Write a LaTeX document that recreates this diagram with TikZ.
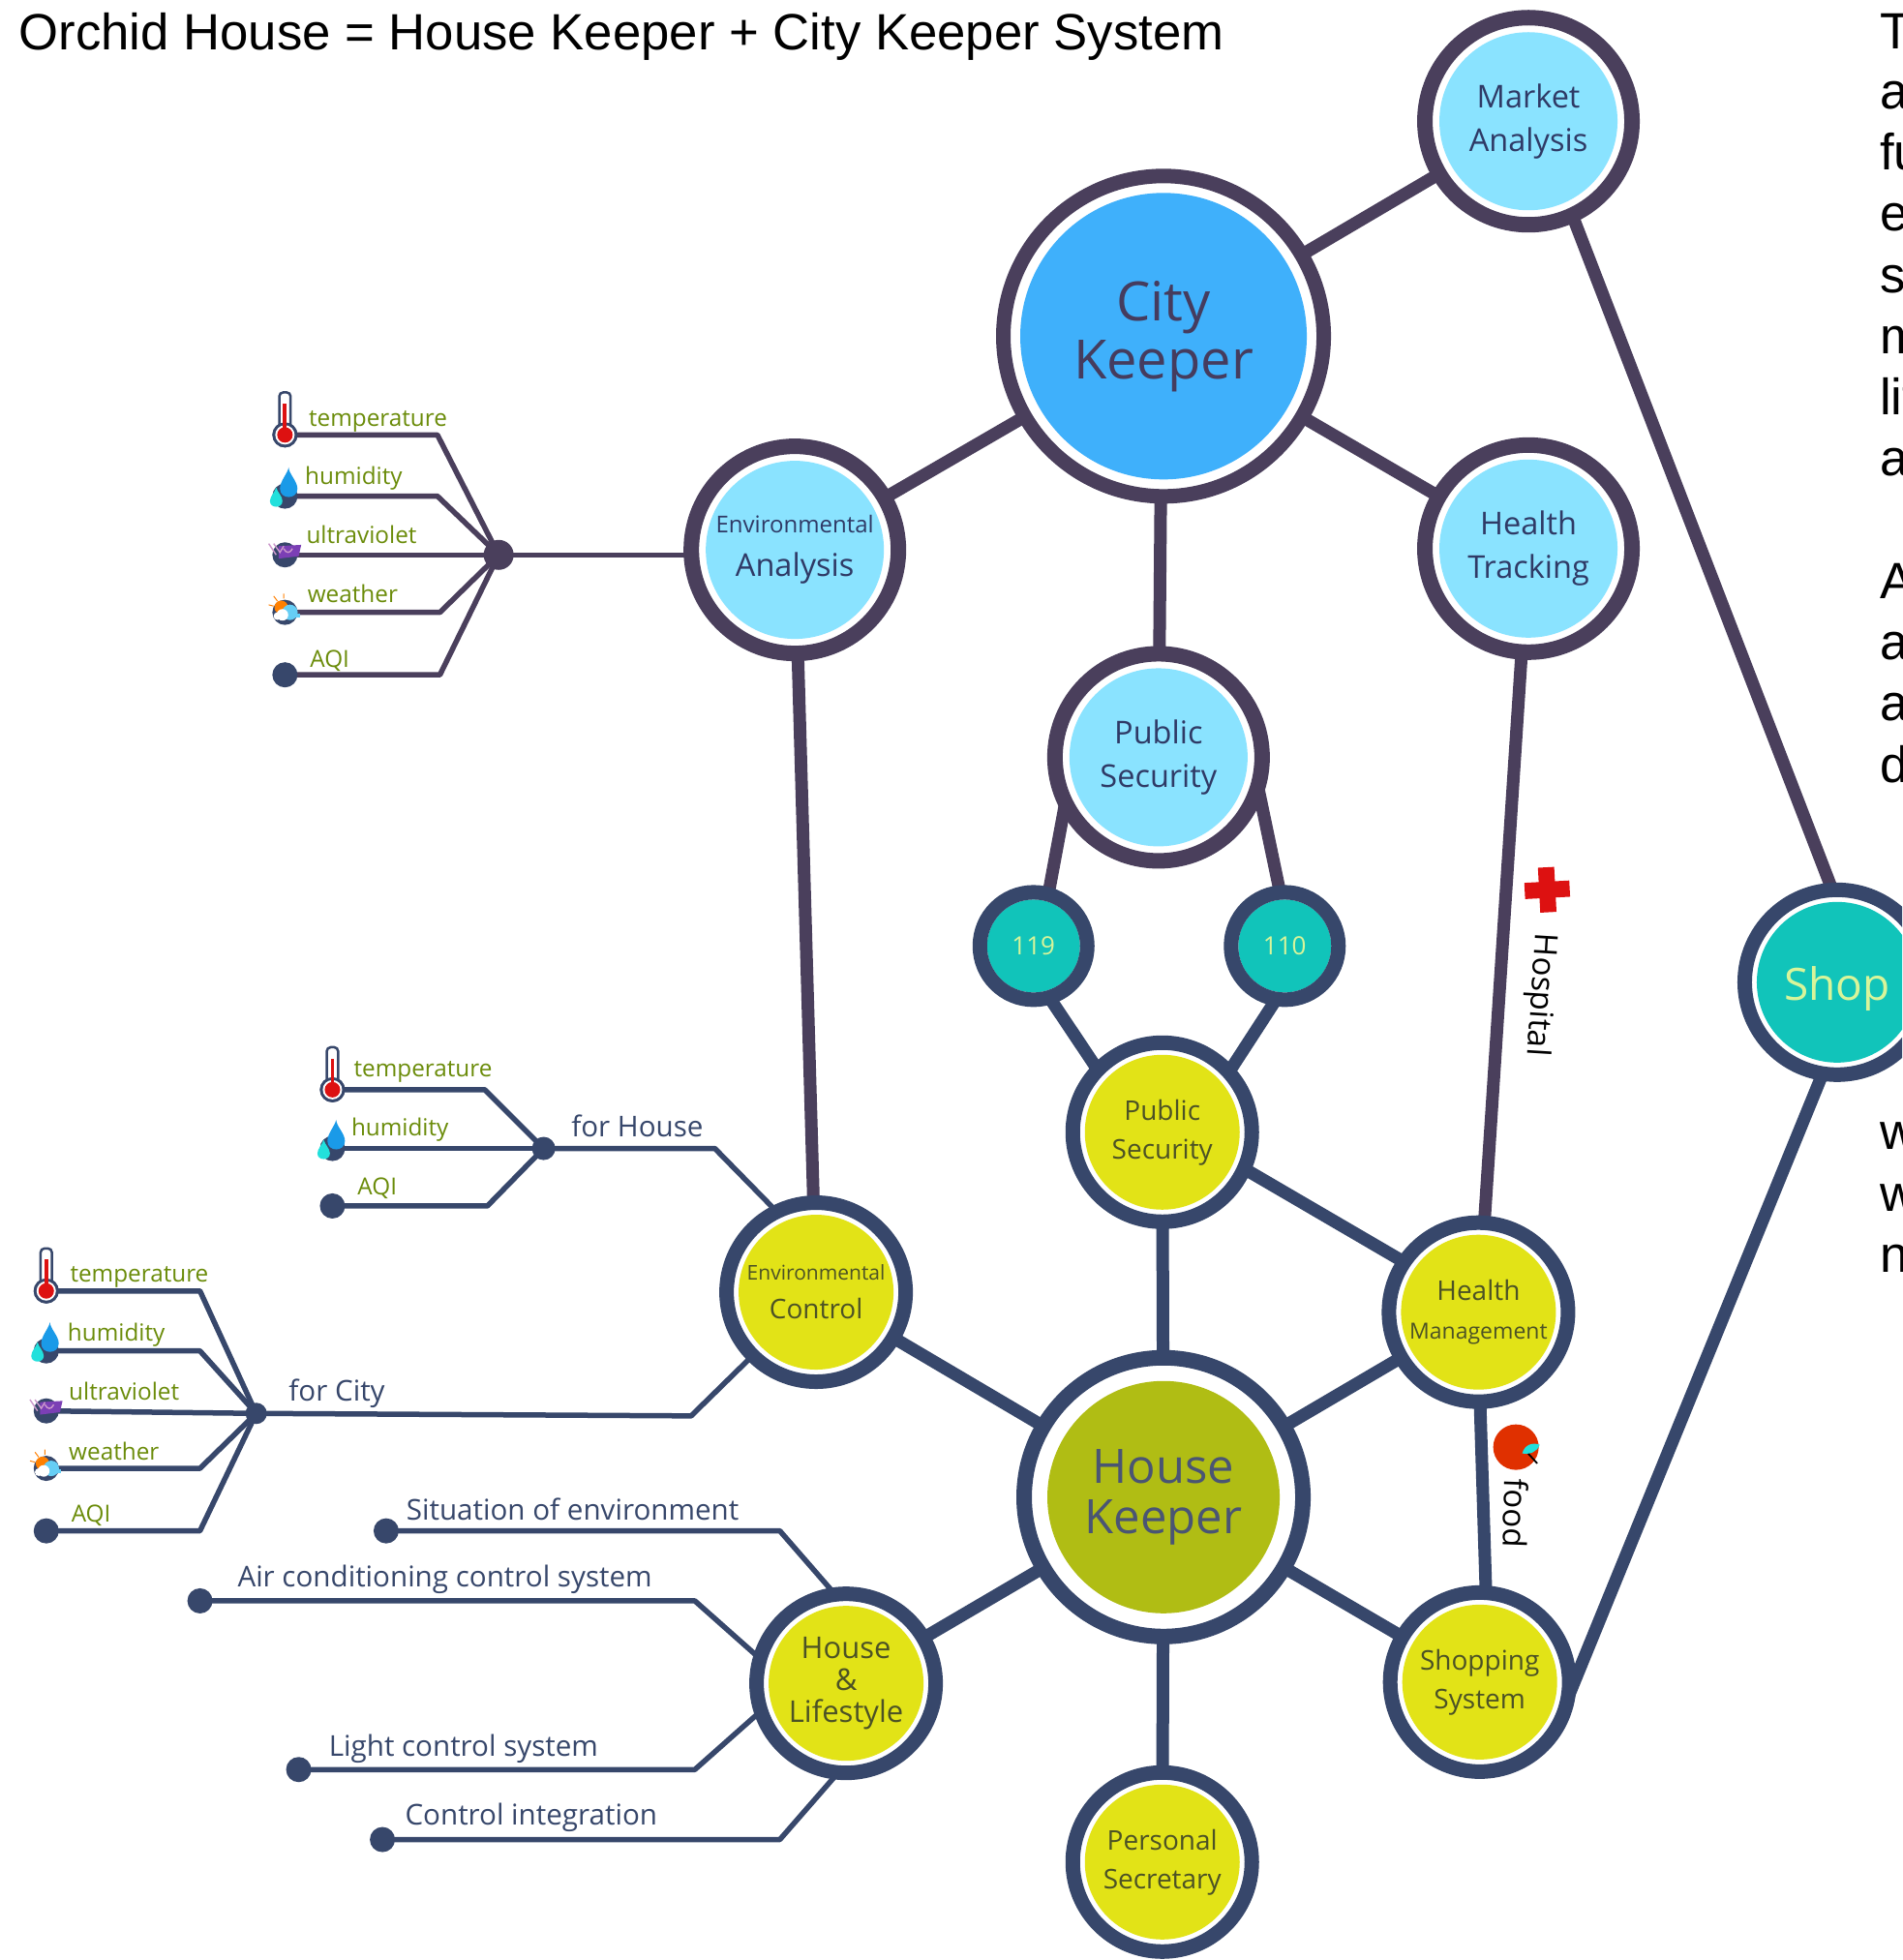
\documentclass[tikz,border=0pt]{standalone}
\usepackage{fontspec}
\setmainfont{Open Sans}
\newfontfamily\arialf{Liberation Sans}
\usetikzlibrary{backgrounds}
\definecolor{plum}{HTML}{4A3F5C}
\definecolor{navy}{HTML}{37476B}
\definecolor{cityblue}{HTML}{3FB0FB}
\definecolor{skyb}{HTML}{8AE3FF}
\definecolor{shopb}{HTML}{11C4BA}
\definecolor{lemon}{HTML}{E2E317}
\definecolor{oliveb}{HTML}{B0BD14}
\definecolor{leafgreen}{HTML}{6B8C0A}
\definecolor{txtplum}{HTML}{453C5E}
\definecolor{txtnavy}{HTML}{2F3A66}
\definecolor{txtgrey}{HTML}{4A5573}
\definecolor{txtolive}{HTML}{4C5225}
\definecolor{softyellow}{HTML}{D8F59A}
\definecolor{redx}{HTML}{DD1111}
\definecolor{applered}{HTML}{E03000}
\definecolor{dropblue}{HTML}{1A9AE8}
\definecolor{dropcyan}{HTML}{22E0DC}
\definecolor{uvviolet}{HTML}{7B3FB5}
\newcommand\fsz[2]{\fontsize{#1}{#2}\selectfont}
\newcommand\thermoicon[1]{\begin{scope}[shift={(#1)}]
  \filldraw[navy,fill=white,line width=2.5pt,rounded corners=4pt] (-4.5,0) rectangle (4.5,-34);
  \fill[navy] (0,0) circle (13pt);
  \fill[white] (0,0) circle (10pt);
  \fill[redx] (0,0) circle (8pt);
  \fill[redx] (-1.5,0) rectangle (1.5,-25);
\end{scope}}
\newcommand\dropicon[1]{\begin{scope}[shift={(#1)}]
  \fill[dropblue] (3,-23) .. controls (3,-18) and (10,-12) .. (10,-6) .. controls (10,3) and (-4,3) .. (-4,-6) .. controls (-4,-12) and (2,-18) .. (3,-23) -- cycle;
  \fill[dropcyan] (-7,-7) .. controls (-8,-3) and (-12,0) .. (-12,4) .. controls (-12,10) and (-2,10) .. (-2,4) .. controls (-2,0) and (-6,-3) .. (-7,-7) -- cycle;
\end{scope}}
\newcommand\uvicon[1]{\begin{scope}[shift={(#1)}]
  \fill[uvviolet] (-5,-7) -- (13,-8) -- (11,1) -- (-5,3) -- cycle;
  \draw[violet!40!white,line width=1.4pt] (-13,-9) -- (-7,0) (-9,-9) -- (-4,-2) -- (-1,-7) (-1,-5) .. controls (1,-1) and (4,-1) .. (6,-5);
\end{scope}}
\newcommand\weathericon[1]{\begin{scope}[shift={(#1)}]
  \fill[orange] (-3,-4) circle (7pt);
  \draw[orange,line width=1pt] (-9,-5) -- (-13,-6) (-6,-9) -- (-9,-13) (-1,-11) -- (-1,-15);
  \fill[cyan!60!white] (-6,1) rectangle (12,4);
  \fill[cyan!60!white] (4,0) circle (8pt);
  \fill[white] (-2,2) circle (6pt);
  \fill[white] (-6,3) circle (4pt);
\end{scope}}
\tikzset{
  ringnode/.style n args={5}{circle,draw=#1,line width=#3,fill=white,inner sep=0pt,outer sep=0pt,
    minimum size={2*#2-#3},align=center,
    path picture={\fill[#5] (path picture bounding box.center) circle (#4);}},
  topstrut/.style={execute at begin node={\rule{0pt}{#1}}},
  citybub/.style={ringnode={plum}{173pt}{15pt}{148pt}{cityblue},text=txtplum,font=\fsz{56}{60},topstrut=51pt},
  topbub/.style={ringnode={plum}{115pt}{16pt}{92pt}{skyb},text=txtnavy,font=\fsz{32.5}{45},topstrut=30pt},
  numbub/.style={ringnode={navy}{63pt}{15pt}{48pt}{shopb},text=softyellow,font=\fsz{26}{30}},
  keybub/.style={ringnode={navy}{152pt}{16pt}{120pt}{oliveb},text=txtgrey,font=\fsz{49}{52},topstrut=47pt},
  lowbub/.style={ringnode={navy}{100pt}{15pt}{80pt}{lemon},text=txtolive,font=\fsz{28}{40},topstrut=29pt},
  shopbub/.style={ringnode={navy}{103pt}{15pt}{83pt}{shopb},text=softyellow,font=\fsz{46}{50},topstrut=48pt},
  linkp/.style={draw=plum,line width=13pt},
  linkn/.style={draw=navy,line width=13pt},
  wirep/.style={draw=plum,line width=5.5pt,line join=round},
  wiren/.style={draw=navy,line width=5.5pt,line join=round},
  endp/.style={circle,fill=navy,inner sep=0pt,outer sep=0pt,minimum size=26pt},
  hubn/.style={circle,fill=#1,inner sep=0pt,outer sep=0pt},
  leaf/.style={anchor=base west,inner sep=0pt,text=leafgreen,font=\fsz{24.3}{27}},
  wirelabel/.style={anchor=base west,inner sep=0pt,text=navy,font=\fsz{29.6}{32}},
  arialtext/.style={anchor=base west,inner sep=0pt,text=black,font=\arialf\fsz{52.7}{57}},
  sidelabel/.style={inner sep=0pt,text=black,font=\fsz{33}{36}},
}
\begin{document}
\begin{tikzpicture}[x=1.2911pt,y=-1.2911pt]
\useasboundingbox (0,0) rectangle (1522,1568.4);
\clip (0,0) rectangle (1522,1568.4);
\begin{scope}[on background layer]
  \fill[white] (0,0) rectangle (1522,1568.4);
\end{scope}

% Title and clipped side text
\node[arialtext] (title) at (15,39.5) {Orchid House = House Keeper + City Keeper System};
\node[arialtext] (s1) at (1504,39) {T};
\node[arialtext] (s2) at (1504,87) {a};
\node[arialtext] (s3) at (1504,136) {fu};
\node[arialtext] (s4) at (1504,185) {e};
\node[arialtext] (s5) at (1504,234) {s};
\node[arialtext] (s6) at (1504,283) {m};
\node[arialtext] (s7) at (1504,332) {lit};
\node[arialtext] (s8) at (1504,381) {a};
\node[arialtext] (s9) at (1504,479) {A};
\node[arialtext] (s10) at (1504,528) {a};
\node[arialtext] (s11) at (1504,577) {a};
\node[arialtext] (s12) at (1504,626) {d};
\node[arialtext] (s13) at (1504,920) {w};
\node[arialtext] (s14) at (1504,969) {w};
\node[arialtext] (s15) at (1504,1018) {n};

% Main bubbles
\node[citybub] (city) at (931,269) {City\\Keeper};
\node[topbub] (market) at (1223,97) {Market\\Analysis};
\node[topbub,topstrut=24pt] (enva) at (636,440) {{\fsz{24}{34}Environmental}\\Analysis};
\node[topbub] (healtht) at (1223,439) {Health\\Tracking};
\node[topbub] (pubt) at (927,606) {Public\\Security};
\node[numbub] (n119) at (827,757) {119};
\node[numbub] (n110) at (1028,757) {110};
\node[shopbub] (shop) at (1470,786) {Shop};
\node[lowbub] (puby) at (930,906) {Public\\Security};
\node[lowbub,topstrut=16pt] (envc) at (653,1034) {{\fsz{21}{36}Environmental}\\Control};
\node[lowbub] (mgmt) at (1183,1050) {Health\\{\fsz{23}{42}Management}};
\node[keybub] (hk) at (931,1198) {House\\Keeper};
\node[lowbub,font=\fsz{31}{33},topstrut=31pt] (hl) at (677,1347) {House\\\&\\Lifestyle};
\node[lowbub] (shopping) at (1184,1346) {Shopping\\System};
\node[lowbub] (personal) at (930,1490) {Personal\\Secretary};

% Tree 1
\node[hubn=plum,minimum size=31pt] (hub1) at (399,444) {};
\node[endp] (a1) at (228,348) {};
\node[endp] (a2) at (228,397) {};
\node[endp] (a3) at (228,444) {};
\node[endp] (a4) at (228,490) {};
\node[endp] (a5) at (228,540) {};
\thermoicon{a1}
\dropicon{a2}
\uvicon{a3}
\weathericon{a4}
\node[leaf] (a1t) at (247,341) {temperature};
\node[leaf] (a2t) at (244,388) {humidity};
\node[leaf] (a3t) at (245,435) {ultraviolet};
\node[leaf] (a4t) at (246,482) {weather};
\node[leaf] (a5t) at (248,534) {AQI};

% Tree 2
\node[hubn=navy,minimum size=24pt] (hub2) at (435,919) {};
\node[endp] (b1) at (266,872) {};
\node[endp] (b2) at (266,919) {};
\node[endp] (b3) at (266,965) {};
\thermoicon{b1}
\dropicon{b2}
\node[leaf] (b1t) at (283,862) {temperature};
\node[leaf] (b2t) at (281,909) {humidity};
\node[leaf] (b3t) at (286,956) {AQI};
\node[wirelabel] (forhouse) at (457,910) {for House};

% Tree 3
\node[hubn=navy,minimum size=22pt] (hub3) at (205,1131) {};
\node[endp] (c1) at (37,1033) {};
\node[endp] (c2) at (37,1081) {};
\node[endp] (c3) at (37,1129) {};
\node[endp] (c4) at (37,1175) {};
\node[endp] (c5) at (37,1225) {};
\thermoicon{c1}
\dropicon{c2}
\uvicon{c3}
\weathericon{c4}
\node[leaf] (c1t) at (56,1026) {temperature};
\node[leaf] (c2t) at (54,1073) {humidity};
\node[leaf] (c3t) at (55,1120) {ultraviolet};
\node[leaf] (c4t) at (55,1168) {weather};
\node[leaf] (c5t) at (57,1218) {AQI};
\node[wirelabel] (forcity) at (231,1121) {for City};

% House and lifestyle ends
\node[endp] (d1) at (309,1225) {};
\node[endp] (d2) at (160,1281) {};
\node[endp] (d3) at (239,1416) {};
\node[endp] (d4) at (306,1472) {};
\node[wirelabel] (d1t) at (325,1216) {Situation of environment};
\node[wirelabel] (d2t) at (190,1270) {Air conditioning control system};
\node[wirelabel] (d3t) at (263,1405) {Light control system};
\node[wirelabel] (d4t) at (324,1460) {Control integration};

% Hospital and food marks
\node[sidelabel,rotate=-93.5] (hosp) at (1232,796) {Hospital};
\node[sidelabel,rotate=-92] (food) at (1213,1211) {food};
\begin{scope}[shift={(1238,712)},rotate=3]
  \fill[redx] (-18,-6.5) rectangle (18,6.5);
  \fill[redx] (-6.5,-18) rectangle (6.5,18);
\end{scope}
\node[circle,fill=applered,inner sep=0pt,outer sep=0pt,minimum size=47pt] (apple) at (1213,1158) {};
\draw[black,line width=1.8pt] (1220,1160) -- (1230,1171);
\fill[dropcyan] (1218,1163) .. controls (1220,1156) and (1226,1154) .. (1232,1156) .. controls (1230,1162) and (1224,1164) .. (1218,1163) -- cycle;

% Connectors, under the bubbles
\begin{scope}[on background layer]
  \draw[linkp] (city) -- (market);
  \draw[linkp] (city) -- (enva);
  \draw[linkp] (city) -- (healtht);
  \draw[linkp] (city.-91) -- (pubt);
  \draw[linkp] (pubt.133) -- (n119.74);
  \draw[linkp] (pubt.40) -- (n110.95);
  \draw[linkp] (market.-65) -- (shop.93);
  \draw[linkp] (enva) -- (envc);
  \draw[linkp] (healtht) -- (mgmt);
  \draw[linkn] (n119.-73) -- (puby.136);
  \draw[linkn] (n110.-99) -- (puby.42);
  \draw[linkn] (puby) -- (hk);
  \draw[linkn] (puby.-24) -- (mgmt.146);
  \draw[linkn] (hk) -- (envc);
  \draw[linkn] (hk) -- (mgmt);
  \draw[linkn] (hk) -- (hl);
  \draw[linkn] (hk) -- (shopping);
  \draw[linkn] (hk) -- (personal);
  \draw[linkn] (mgmt.-89) -- (shopping.86);
  \draw[linkn] (shop.-99) -- (shopping.-10);

  \draw[wirep] (hub1.center) -- (enva.west |- hub1);
  \draw[wirep] (a1.center) -- (350,348) -- (hub1.center);
  \draw[wirep] (a2.center) -- (350,397) -- (hub1.center);
  \draw[wirep] (a3.center) -- (hub1.center);
  \draw[wirep] (a4.center) -- (352,490) -- (hub1.center);
  \draw[wirep] (a5.center) -- (352,540) -- (hub1.center);

  \draw[wiren] (b1.center) -- (388,872) -- (hub2.center);
  \draw[wiren] (b2.center) -- (hub2.center);
  \draw[wiren] (b3.center) -- (390,965) -- (hub2.center);
  \draw[wiren] (hub2.center) -- (572,919) -- (envc.116);

  \draw[wiren] (c1.center) -- (160,1033) -- (hub3.center);
  \draw[wiren] (c2.center) -- (160,1081) -- (hub3.center);
  \draw[wiren] (c3.center) -- (hub3.center);
  \draw[wiren] (c4.center) -- (160,1175) -- (hub3.center);
  \draw[wiren] (c5.center) -- (160,1225) -- (hub3.center);
  \draw[wiren] (hub3.center) -- (553,1133) -- (envc.-135);

  \draw[wiren] (d1.center) -- (624,1225) -- (hl.97);
  \draw[wiren] (d2.center) -- (556,1281) -- (hl.164);
  \draw[wiren] (d3.center) -- (556,1416) -- (hl.-162);
  \draw[wiren] (d4.center) -- (624,1472) -- (hl.-95);
\end{scope}
\end{tikzpicture}
\end{document}
